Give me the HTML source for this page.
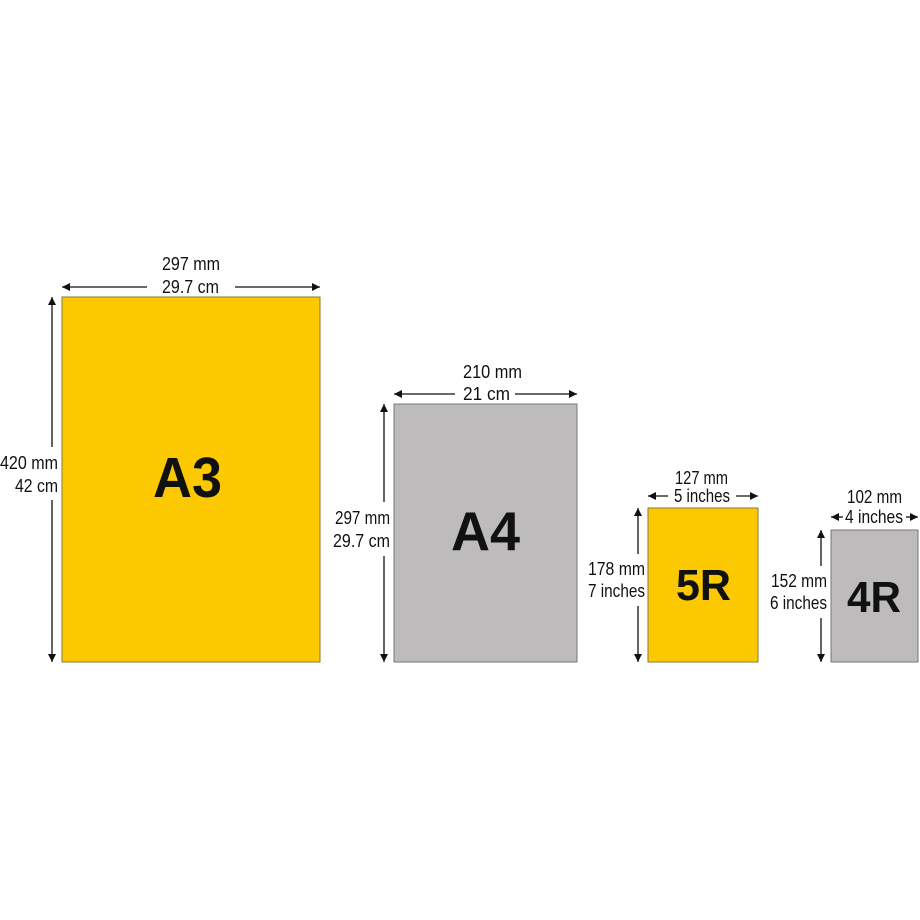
<!DOCTYPE html>
<html><head><meta charset="utf-8"><style>
html,body{margin:0;padding:0;background:#fff;}
svg{display:block;}
text{font-family:"Liberation Sans",sans-serif;fill:#111;}
.big{font-family:"Liberation Sans",sans-serif;font-weight:bold;}
</style></head><body>
<svg width="920" height="920" viewBox="0 0 920 920" xmlns="http://www.w3.org/2000/svg">
<defs>
<marker id="a" viewBox="0 0 10 10" refX="10" refY="5" markerWidth="8" markerHeight="8" markerUnits="userSpaceOnUse" orient="auto-start-reverse">
<path d="M0,0 L10,5 L0,10 Z" fill="#111"/></marker>
</defs>
<g stroke="#111" stroke-width="1.3" fill="none">
<line x1="62" y1="287" x2="147" y2="287" marker-start="url(#a)"/>
<line x1="235" y1="287" x2="320" y2="287" marker-end="url(#a)"/>
<line x1="52" y1="297" x2="52" y2="447" marker-start="url(#a)"/>
<line x1="52" y1="500" x2="52" y2="662" marker-end="url(#a)"/>
<line x1="394" y1="394" x2="455" y2="394" marker-start="url(#a)"/>
<line x1="515" y1="394" x2="577" y2="394" marker-end="url(#a)"/>
<line x1="384" y1="404" x2="384" y2="502" marker-start="url(#a)"/>
<line x1="384" y1="556" x2="384" y2="662" marker-end="url(#a)"/>
<line x1="648" y1="496" x2="668" y2="496" marker-start="url(#a)"/>
<line x1="736" y1="496" x2="758" y2="496" marker-end="url(#a)"/>
<line x1="638" y1="508" x2="638" y2="554" marker-start="url(#a)"/>
<line x1="638" y1="606" x2="638" y2="662" marker-end="url(#a)"/>
<line x1="831" y1="517" x2="843" y2="517" marker-start="url(#a)"/>
<line x1="906" y1="517" x2="918" y2="517" marker-end="url(#a)"/>
<line x1="821" y1="530" x2="821" y2="566" marker-start="url(#a)"/>
<line x1="821" y1="618" x2="821" y2="662" marker-end="url(#a)"/>
</g>
<rect x="62" y="297" width="258" height="365" fill="#fcc800" stroke="#8a7a30" stroke-width="1"/>
<rect x="394" y="404" width="183" height="258" fill="#bdbbbc" stroke="#777" stroke-width="1"/>
<rect x="648" y="508" width="110" height="154" fill="#fcc800" stroke="#8a7a30" stroke-width="1"/>
<rect x="831" y="530" width="87" height="132" fill="#bdbbbc" stroke="#777" stroke-width="1"/>

<g font-size="18.5">
<text x="162" y="270" textLength="58" lengthAdjust="spacingAndGlyphs">297 mm</text>
<text x="162" y="293" textLength="57" lengthAdjust="spacingAndGlyphs">29.7 cm</text>
<text x="0" y="469" textLength="58" lengthAdjust="spacingAndGlyphs">420 mm</text>
<text x="15" y="492" textLength="43" lengthAdjust="spacingAndGlyphs">42 cm</text>

<text x="463" y="378" textLength="59" lengthAdjust="spacingAndGlyphs">210 mm</text>
<text x="463" y="400" textLength="47" lengthAdjust="spacingAndGlyphs">21 cm</text>
<text x="335" y="524" textLength="55" lengthAdjust="spacingAndGlyphs">297 mm</text>
<text x="333" y="547" textLength="57" lengthAdjust="spacingAndGlyphs">29.7 cm</text>

<text x="675" y="484" textLength="53" lengthAdjust="spacingAndGlyphs">127 mm</text>
<text x="674" y="502" textLength="56" lengthAdjust="spacingAndGlyphs">5 inches</text>
<text x="588" y="575" textLength="57" lengthAdjust="spacingAndGlyphs">178 mm</text>
<text x="588" y="597" textLength="57" lengthAdjust="spacingAndGlyphs">7 inches</text>

<text x="847" y="503" textLength="55" lengthAdjust="spacingAndGlyphs">102 mm</text>
<text x="845" y="523" textLength="58" lengthAdjust="spacingAndGlyphs">4 inches</text>
<text x="771" y="587" textLength="56" lengthAdjust="spacingAndGlyphs">152 mm</text>
<text x="770" y="609" textLength="57" lengthAdjust="spacingAndGlyphs">6 inches</text>
</g>
<text class="big" x="153" y="497" font-size="57" textLength="69" lengthAdjust="spacingAndGlyphs">A3</text>
<text class="big" x="451" y="550" font-size="55" textLength="69" lengthAdjust="spacingAndGlyphs">A4</text>
<text class="big" x="676" y="600" font-size="44" textLength="55" lengthAdjust="spacingAndGlyphs">5R</text>
<text class="big" x="847" y="612" font-size="44" textLength="54" lengthAdjust="spacingAndGlyphs">4R</text>
</svg>
</body></html>
